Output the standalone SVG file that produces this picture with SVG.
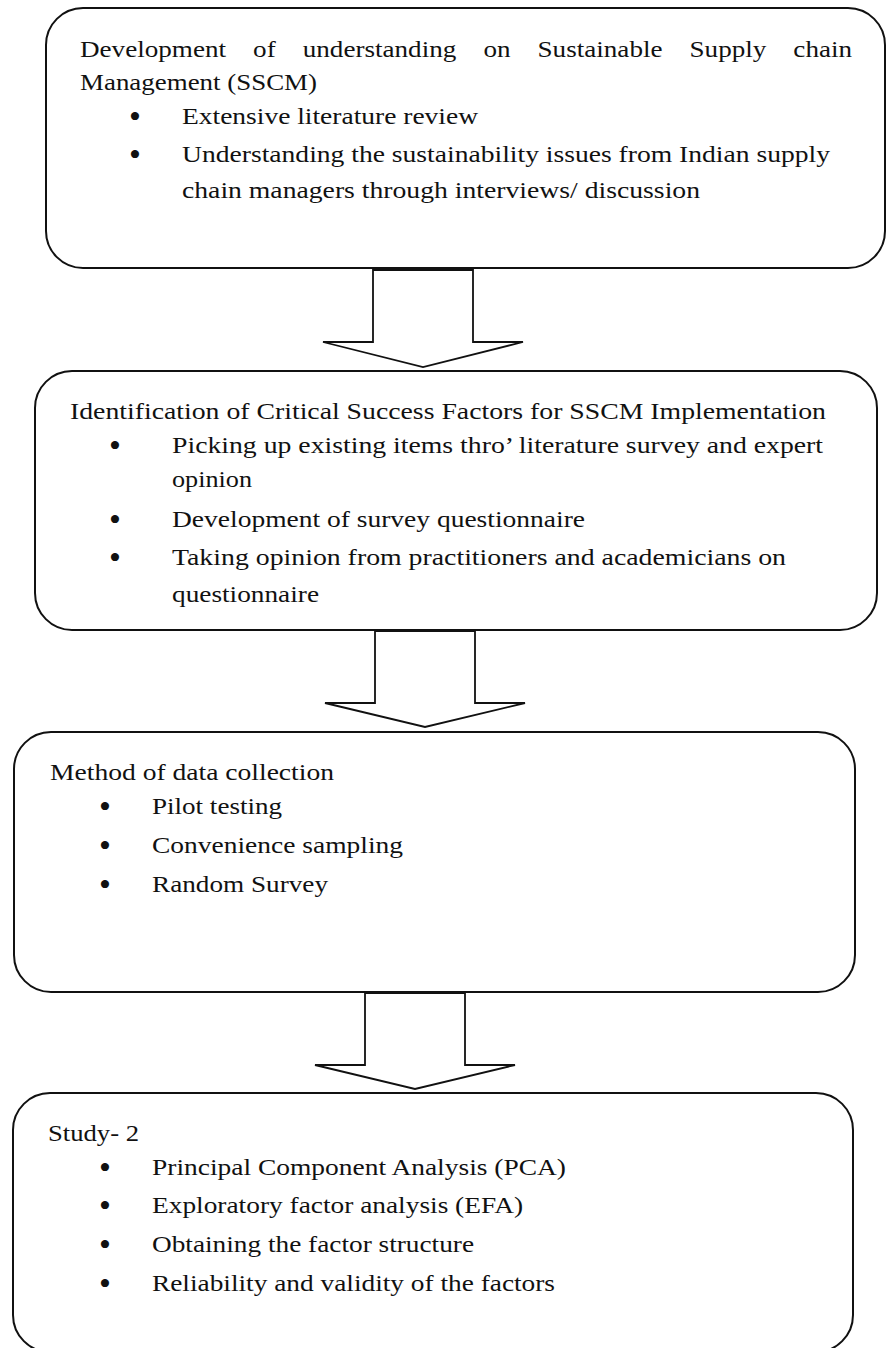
<svg xmlns="http://www.w3.org/2000/svg" width="887" height="1348" viewBox="0 0 887 1348">
<style>
.box{fill:#fff;stroke:#111;stroke-width:2}
.arr{fill:#fff;stroke:#111;stroke-width:1.8;stroke-linejoin:miter}
text{font-family:"Liberation Serif","Times New Roman",serif;font-size:24px;fill:#111}
text.b{font-size:34px}
</style>
<rect width="887" height="1348" fill="#fff"/>
<g id="connectors">
<path class="arr" d="M373,270 V342 H323 L423,367 L523,342 H473 V270 Z"/>
<path class="arr" d="M375,631 V703 H325 L425,727 L525,703 H475 V631 Z"/>
<path class="arr" d="M365,993 V1065 H315 L415,1089 L515,1065 H465 V993 Z"/>
</g>
<g id="node1">
<rect class="box" x="46" y="8" width="839" height="260" rx="37" ry="37"/>
<text transform="scale(1.13 1)" y="57"><tspan x="70.8">Development</tspan><tspan x="224">of</tspan><tspan x="267.9">understanding</tspan><tspan x="427.8">on</tspan><tspan x="475.7">Sustainable</tspan><tspan x="610.2">Supply</tspan><tspan x="702.1">chain</tspan></text>
<text x="80" y="90" textLength="237" lengthAdjust="spacingAndGlyphs">Management (SSCM)</text>
<text class="b" x="129" y="128">•</text>
<text x="182" y="124" textLength="296" lengthAdjust="spacingAndGlyphs">Extensive literature review</text>
<text class="b" x="129" y="166">•</text>
<text x="182" y="162" textLength="648" lengthAdjust="spacingAndGlyphs">Understanding the sustainability issues from Indian supply</text>
<text x="182" y="198" textLength="518" lengthAdjust="spacingAndGlyphs">chain managers through interviews/ discussion</text>
</g>
<g id="node2">
<rect class="box" x="35" y="371" width="842" height="259" rx="37" ry="37"/>
<text x="70" y="419" textLength="756" lengthAdjust="spacingAndGlyphs">Identification of Critical Success Factors for SSCM Implementation</text>
<text class="b" x="109" y="457">•</text>
<text x="172" y="453" textLength="651" lengthAdjust="spacingAndGlyphs">Picking up existing items thro’ literature survey and expert</text>
<text x="172" y="487" textLength="80" lengthAdjust="spacingAndGlyphs">opinion</text>
<text class="b" x="109" y="531">•</text>
<text x="172" y="527" textLength="413" lengthAdjust="spacingAndGlyphs">Development of survey questionnaire</text>
<text class="b" x="109" y="569">•</text>
<text x="172" y="565" textLength="614" lengthAdjust="spacingAndGlyphs">Taking opinion from practitioners and academicians on</text>
<text x="172" y="602" textLength="147" lengthAdjust="spacingAndGlyphs">questionnaire</text>
</g>
<g id="node3">
<rect class="box" x="14" y="732" width="841" height="260" rx="37" ry="37"/>
<text x="50" y="780" textLength="284" lengthAdjust="spacingAndGlyphs">Method of data collection</text>
<text class="b" x="99" y="818">•</text>
<text x="152" y="814" textLength="130" lengthAdjust="spacingAndGlyphs">Pilot testing</text>
<text class="b" x="99" y="857">•</text>
<text x="152" y="853" textLength="251" lengthAdjust="spacingAndGlyphs">Convenience sampling</text>
<text class="b" x="99" y="896">•</text>
<text x="152" y="892" textLength="176" lengthAdjust="spacingAndGlyphs">Random Survey</text>
</g>
<g id="node4">
<rect class="box" x="13" y="1093" width="840" height="259" rx="37" ry="37"/>
<text x="48" y="1141" textLength="91" lengthAdjust="spacingAndGlyphs">Study- 2</text>
<text class="b" x="99" y="1179">•</text>
<text x="152" y="1175" textLength="414" lengthAdjust="spacingAndGlyphs">Principal Component Analysis (PCA)</text>
<text class="b" x="99" y="1217">•</text>
<text x="152" y="1213" textLength="371" lengthAdjust="spacingAndGlyphs">Exploratory factor analysis (EFA)</text>
<text class="b" x="99" y="1256">•</text>
<text x="152" y="1252" textLength="322" lengthAdjust="spacingAndGlyphs">Obtaining the factor structure</text>
<text class="b" x="99" y="1295">•</text>
<text x="152" y="1291" textLength="403" lengthAdjust="spacingAndGlyphs">Reliability and validity of the factors</text>
</g>
</svg>
